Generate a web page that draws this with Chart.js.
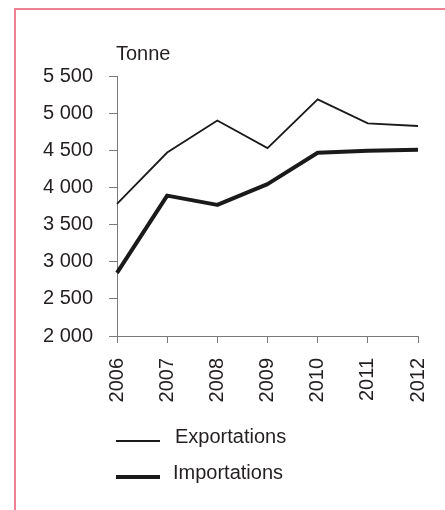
<!DOCTYPE html>
<html><head><meta charset="utf-8">
<script src="https://cdn.jsdelivr.net/npm/chart.js@4"></script>
<style>
html,body{margin:0;padding:0;background:#fff;overflow:hidden;width:445px;height:510px;}
#frame{position:absolute;left:14px;top:8px;width:520px;height:600px;border-top:2px solid #ef8195;border-left:2px solid #ef8195;box-sizing:border-box;}
#wrap{position:absolute;left:0;top:0;width:445px;height:510px;}
</style></head><body>
<div id="frame"></div>
<div id="wrap"><canvas id="c" width="445" height="510"></canvas></div>
<script>
// ---- data ----
const years = ['2006', '2007', '2008', '2009', '2010', '2011', '2012'];
const exportations = [3780, 4470, 4900, 4530, 5185, 4863, 4827];
const importations = [2850, 3890, 3765, 4045, 4467, 4494, 4507];
const seriesNames = ['Exportations', 'Importations'];
const yMin = 2000, yMax = 5500, yStep = 500;
const unitLabel = 'Tonne';

const FONT = '"Liberation Sans", Arial, Helvetica, sans-serif';
const TEXT = '#231f20';
const AXIS = '#7a7a7a';

function fmt(v) { return String(v).replace(/\B(?=(\d{3})+(?!\d))/g, ' '); }

const extras = {
  id: 'extras',
  afterDraw(chart) {
    const ctx = chart.ctx, ca = chart.chartArea;
    ctx.save();
    ctx.fillStyle = TEXT;
    ctx.font = '20px ' + FONT;
    ctx.textAlign = 'left';
    ctx.textBaseline = 'alphabetic';
    ctx.fillText(unitLabel, ca.left - 1, ca.top - 16);
    // legend (vertical list)
    const baselines = [443, 479];
    chart.data.datasets.forEach((ds, i) => {
      const b = baselines[i];
      ctx.beginPath();
      ctx.strokeStyle = ds.borderColor;
      ctx.lineWidth = ds.borderWidth;
      ctx.lineCap = 'butt';
      ctx.moveTo(ca.left - 1, b - 2);
      ctx.lineTo(ca.left + 43, b - 2);
      ctx.stroke();
      ctx.fillStyle = TEXT;
      ctx.fillText(ds.label, ca.left + 58 - i * 2, b);
    });
    ctx.restore();
  }
};

new Chart(document.getElementById('c'), {
  type: 'line',
  data: {
    labels: years,
    datasets: [
      { label: seriesNames[0], data: exportations, borderColor: '#1a1a1a', borderWidth: 1.8, pointRadius: 0, tension: 0, fill: false },
      { label: seriesNames[1], data: importations, borderColor: '#1a1a1a', borderWidth: 4, pointRadius: 0, tension: 0, fill: false, borderJoinStyle: 'round' }
    ]
  },
  options: {
    responsive: false,
    animation: false,
    devicePixelRatio: 1,
    layout: { padding: { left: 43, right: 27, top: 76, bottom: 107 } },
    plugins: { legend: { display: false }, tooltip: { enabled: false } },
    scales: {
      x: {
        type: 'category',
        offset: false,
        grid: { display: true, drawOnChartArea: false, drawTicks: true, tickLength: 7, color: AXIS, lineWidth: 1 },
        border: { display: true, color: AXIS, width: 1 },
        ticks: { minRotation: 90, maxRotation: 90, autoSkip: false, padding: 15, color: TEXT, font: { family: FONT, size: 20 } },
        afterFit(s) { s.height = 67; s.paddingLeft = 0; s.paddingRight = 0; }
      },
      y: {
        min: yMin, max: yMax,
        grid: { display: true, drawOnChartArea: false, drawTicks: true, tickLength: 8, color: AXIS, lineWidth: 1 },
        border: { display: true, color: AXIS, width: 1 },
        ticks: { stepSize: yStep, padding: 16, color: TEXT, font: { family: FONT, size: 20 }, callback: v => fmt(v) },
        afterFit(s) { s.width = 74; s.paddingTop = 0; s.paddingBottom = 0; }
      }
    }
  },
  plugins: [extras]
});
</script>
</body></html>
